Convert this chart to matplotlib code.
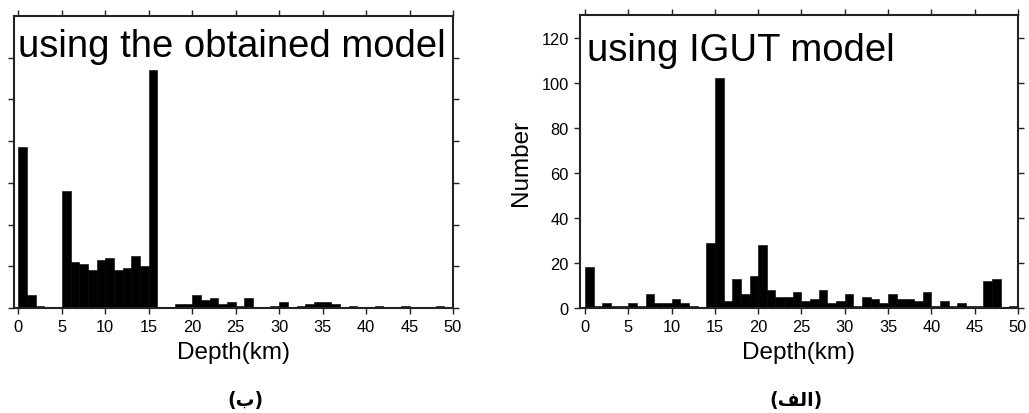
import matplotlib
matplotlib.use("Agg")
import matplotlib.pyplot as plt
import numpy as np

plt.rcParams['font.family'] = ['Liberation Sans', 'DejaVu Sans']

# Depth bins (km), 1-km wide, left edges
bin_edges = list(range(0, 50))

# Left panel: using the obtained model
obtained_counts = [77, 6, 1, 0, 0, 56, 22, 21, 18, 23,
                   24, 18, 19, 25, 20, 114, 0, 0, 2, 2,
                   6, 4, 5, 2, 3, 1, 5, 0, 0, 1,
                   3, 0, 1, 2, 3, 3, 2, 0, 1, 0,
                   0, 1, 0, 0, 1, 0, 0, 0, 1, 0]

# Right panel: using IGUT model
igut_counts = [18, 1, 2, 1, 1, 2, 1, 6, 2, 2,
               4, 2, 1, 0, 29, 102, 3, 13, 6, 14,
               28, 8, 5, 5, 7, 3, 4, 8, 2, 3,
               6, 1, 5, 4, 2, 6, 4, 4, 3, 7,
               1, 3, 1, 2, 1, 1, 12, 13, 0, 1]

x_ticks = [0, 5, 10, 15, 20, 25, 30, 35, 40, 45, 50]
y_ticks = [0, 20, 40, 60, 80, 100, 120]

title_left = "using the obtained model"
title_right = "using IGUT model"
xlabel = "Depth(km)"
ylabel = "Number"
# Arabic panel labels (visual order, presentation forms)
label_left = "(\ufe8f)"             # (ب)
label_right = "(\ufed2\ufedf\ufe8d)"  # (الف)

W, H = 1029, 414
fig = plt.figure(figsize=(W / 100, H / 100), dpi=100)

def px_axes(l, t, r, b):
    return fig.add_axes([l / W, 1 - b / H, (r - l) / W, (b - t) / H])

axL = px_axes(14, 17, 453, 309)
axR = px_axes(580, 16, 1018, 309)

def style(ax, counts, ylim, xmin, show_ylabels):
    ax.bar(bin_edges, counts, width=1.0, align='edge', color='black',
           edgecolor='black', linewidth=0.4, zorder=2)
    ax.set_xlim(xmin, 50)
    ax.set_ylim(0, ylim)
    ax.set_xticks(x_ticks)
    ax.set_yticks(y_ticks)
    ax.tick_params(direction='out', length=4.5, width=1.0, labelsize=11.8,
                   pad=3.5, top=True, right=True, labeltop=False,
                   labelright=False, color='#222222')
    if not show_ylabels:
        ax.tick_params(axis='y', labelleft=False)
    for s in ax.spines.values():
        s.set_linewidth(1.5)
        s.set_color('#222222')
    ax.set_xlabel(xlabel, fontsize=17.5, labelpad=5)

style(axL, obtained_counts, 140, -0.5, False)
style(axR, igut_counts, 130, -0.57, True)
axR.set_ylabel(ylabel, fontsize=17.5, labelpad=7)

axL.text(0.008, 0.863, title_left, transform=axL.transAxes, fontsize=27.5,
         va='baseline', ha='left', zorder=3)
axR.text(0.017, 0.845, title_right, transform=axR.transAxes, fontsize=27.5,
         va='baseline', ha='left', zorder=3)

fig.text(245 / W, 1 - 401 / H, label_left, fontsize=13.5, fontweight='bold',
         ha='center', va='center', family=['DejaVu Sans'])
fig.text(796 / W, 1 - 401 / H, label_right, fontsize=13.5, fontweight='bold',
         ha='center', va='center', family=['DejaVu Sans'])

fig.savefig("out.png", dpi=100)
